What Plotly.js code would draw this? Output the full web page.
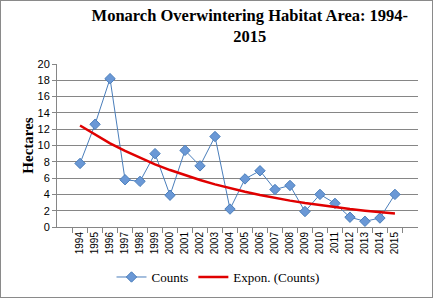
<!DOCTYPE html>
<html><head><meta charset="utf-8">
<script src="https://cdn.plot.ly/plotly-3.0.1.min.js"></script>
<style>
html,body{margin:0;padding:0;background:#fff;}
#wrap{position:relative;width:433px;height:298px;}
#chart{width:433px;height:298px;}
#frame{position:absolute;left:0;top:0;width:433px;height:298px;box-sizing:border-box;border:1px solid #8a8a8a;pointer-events:none;}
</style></head>
<body>
<div id="wrap"><div id="chart"></div><div id="frame"></div></div>
<script>
const years = ["1994","1995","1996","1997","1998","1999","2000","2001","2002","2003","2004","2005","2006","2007","2008","2009","2010","2011","2012","2013","2014","2015"];
const counts = [7.8,12.6,18.2,5.8,5.6,9.0,3.9,9.4,7.5,11.1,2.2,5.9,6.9,4.6,5.1,1.9,4.0,2.9,1.2,0.7,1.1,4.0];

// Exponential trendline (least squares on ln y), like Excel's "Expon." fit
const n = counts.length;
let sx=0, sy=0, sxx=0, sxy=0;
for (let i=0;i<n;i++){ const x=i+1, y=Math.log(counts[i]); sx+=x; sy+=y; sxx+=x*x; sxy+=x*y; }
const b = (n*sxy - sx*sy)/(n*sxx - sx*sx);
const lnA = (sy - b*sx)/n;
const trend = counts.map((_,i)=>Math.exp(lnA + b*(i+1)));

const traces = [
  {x: years, y: counts, name: 'Counts', type: 'scatter', mode: 'lines+markers',
   line: {color: '#4a7ebb', width: 1},
   marker: {symbol: 'diamond', size: 8, color: '#6a98d6', line: {color: '#4a7ebb', width: 1}}},
  {x: years, y: trend, name: 'Expon. (Counts)', type: 'scatter', mode: 'lines',
   line: {color: '#e00000', width: 2.5}}
];

const layout = {
  width: 433, height: 298,
  margin: {l: 57, r: 15, t: 64, b: 71, autoexpand: false},
  paper_bgcolor: '#fff', plot_bgcolor: '#fff',
  title: {text: 'Monarch Overwintering Habitat Area: 1994-<br>2015',
          font: {family: 'Liberation Serif', size: 16.5, color: '#000', weight: 'bold'},
          x: 0.577, xanchor: 'center', xref: 'container', y: 0.93, yanchor: 'top'},
  showlegend: true,
  legend: {orientation: 'h', x: 0.446, xanchor: 'center', y: -0.307, yanchor: 'middle',
           font: {family: 'Liberation Serif', size: 13, color: '#000'}},
  xaxis: {type: 'category', tickangle: -90, tickson: 'boundaries', ticks: 'outside', ticklen: 5,
          tickcolor: '#868686', showline: true, linecolor: '#868686', linewidth: 1, showgrid: false,
          automargin: false,
          tickfont: {family: 'Liberation Sans', size: 10, color: '#000'}},
  yaxis: {range: [0, 20], dtick: 2, tick0: 0, showgrid: true, gridcolor: '#868686', gridwidth: 1,
          showline: true, linecolor: '#868686', ticks: 'outside', ticklen: 4, tickcolor: '#868686',
          zeroline: false, automargin: false,
          tickfont: {family: 'Liberation Sans', size: 11, color: '#000'},
          title: {text: 'Hectares', font: {family: 'Liberation Serif', size: 15, color: '#000', weight: 'bold'}, standoff: 0}}
};
Plotly.newPlot('chart', traces, layout, {displayModeBar: false, staticPlot: true});
</script>
</body></html>
